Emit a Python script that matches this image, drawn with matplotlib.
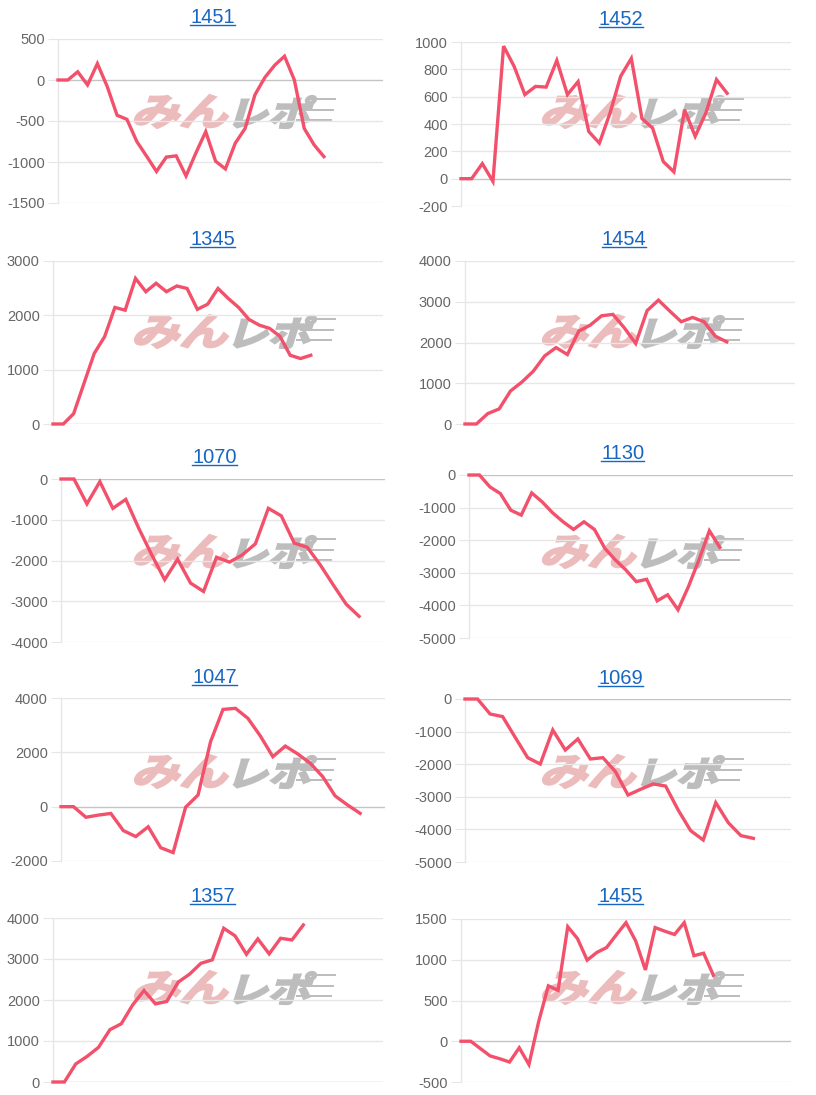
import matplotlib
matplotlib.use("Agg")
import matplotlib.pyplot as plt
from matplotlib.textpath import TextPath
from matplotlib.font_manager import FontProperties
from matplotlib.patches import PathPatch, Rectangle
from matplotlib.transforms import Affine2D
from matplotlib.lines import Line2D

W, H = 816, 1095

# --------------------------------------
# DATA
# --------------------------------------
titles = ["1451", "1452", "1345", "1454", "1070", "1130", "1047", "1069", "1357", "1455"]

v1451 = [0, 0, 100, -60, 200, -80, -430, -480, -750, -930, -1115, -940, -925, -1170,
         -890, -630, -990, -1085, -770, -590, -180, 30, 180, 290, 0, -590, -790, -935]
v1452 = [0, 0, 110, -20, 970, 820, 615, 675, 670, 865, 615, 710, 345, 260, 480, 750,
         880, 440, 370, 125, 50, 505, 310, 480, 725, 625]
v1345 = [0, 0, 190, 745, 1300, 1605, 2145, 2095, 2680, 2435, 2590, 2435, 2540, 2495,
         2110, 2205, 2495, 2310, 2145, 1925, 1820, 1760, 1615, 1265, 1205, 1265]
v1454 = [0, 0, 255, 370, 810, 1030, 1295, 1670, 1875, 1705, 2280, 2425, 2655, 2690,
         2360, 1975, 2780, 3040, 2770, 2510, 2615, 2510, 2155, 2015]
v1070 = [0, 0, -610, -65, -720, -500, -1210, -1860, -2470, -1970, -2555, -2760, -1920,
         -2040, -1860, -1590, -720, -905, -1575, -1675, -2105, -2595, -3070, -3370]
v1130 = [0, 0, -365, -570, -1080, -1230, -550, -825, -1160, -1435, -1670, -1435, -1670,
         -2250, -2605, -2910, -3270, -3200, -3860, -3675, -4135, -3420, -2605, -1710, -2220]
v1047 = [0, 0, -390, -310, -250, -880, -1100, -740, -1510, -1690, -20, 430, 2390, 3580,
         3620, 3250, 2600, 1840, 2230, 1940, 1600, 1105, 395, 60, -245]
v1069 = [0, 0, -460, -540, -1175, -1800, -1995, -950, -1565, -1225, -1840, -1800, -2230,
         -2945, -2770, -2605, -2670, -3405, -4040, -4325, -3180, -3795, -4190, -4275]
v1357 = [0, 0, 440, 625, 845, 1275, 1420, 1880, 2230, 1905, 1965, 2435, 2630, 2895,
         2980, 3750, 3565, 3115, 3490, 3125, 3505, 3465, 3830]
v1455 = [0, 0, -90, -180, -215, -255, -80, -285, 240, 680, 625, 1405, 1260, 995, 1090,
         1150, 1305, 1455, 1230, 875, 1395, 1350, 1310, 1455, 1050, 1080, 810]

series = [v1451, v1452, v1345, v1454, v1070, v1130, v1047, v1069, v1357, v1455]

# number of x categories on each chart (labels are hidden)
n_labels = [34, 32, 33, 30, 26, 32, 27, 27, 30, 35]

y_ticks = [
    [-1500, -1000, -500, 0, 500],
    [-200, 0, 200, 400, 600, 800, 1000],
    [0, 1000, 2000, 3000],
    [0, 1000, 2000, 3000, 4000],
    [-4000, -3000, -2000, -1000, 0],
    [-5000, -4000, -3000, -2000, -1000, 0],
    [-2000, 0, 2000, 4000],
    [-5000, -4000, -3000, -2000, -1000, 0],
    [0, 1000, 2000, 3000, 4000],
    [-500, 0, 500, 1000, 1500],
]

# --------------------------------------
# LAYOUT (pixel boxes: left, top, right, bottom)
# --------------------------------------
boxes = [
    (58, 39, 383, 203), (461, 42, 791, 206),
    (53, 261, 383, 424), (465, 261, 795, 424),
    (61, 479, 385, 642), (469, 475, 793, 638),
    (61, 698, 385, 861), (465, 699, 791, 862),
    (53, 918, 383, 1082), (461, 919, 791, 1082),
]
title_pos = [
    (212.5, 23.3), (621, 25), (212.7, 245), (624, 245), (214.7, 463),
    (622.7, 459), (214.7, 683), (620.5, 684), (212.8, 902), (620.8, 902),
]
row_tops = [0, 220, 440, 660, 876]

LINE_COLOR = "#f2506b"
GRID_COLOR = "#e6e6e6"
ZERO_COLOR = "#c4c4c4"
TICK_COLOR = "#666666"
TITLE_COLOR = "#1766c2"

plt.rcParams["font.family"] = ["Liberation Sans", "DejaVu Sans"]

fig = plt.figure(figsize=(W / 100, H / 100), dpi=100)
fig.patch.set_facecolor("white")


def fig_rect(l, t, r, b):
    return [l / W, 1 - b / H, (r - l) / W, (b - t) / H]


# --------------------------------------
# WATERMARK (drawn behind the transparent axes)
# --------------------------------------
wm_font = FontProperties(family="Noto Sans CJK JP", weight="bold")


def fitted_path(text, x0, y0, x1, y1, skew=14):
    tp = TextPath((0, 0), text, size=100, prop=wm_font)
    path = Affine2D().skew_deg(skew, 0).transform_path(tp)
    ext = path.get_extents()
    tr = (Affine2D().translate(-ext.x0, -ext.y0)
          .scale((x1 - x0) / ext.width, (y1 - y0) / ext.height)
          .translate(x0, H - y1)
          .scale(1 / W, 1 / H))
    return tr.transform_path(path)


PINK_WM = "#ecbcbc"
GREY_WM = "#bdbdbd"
for col_x in (0, 408):
    for rt in row_tops:
        p1 = fitted_path("みん", col_x + 135, rt + 95, col_x + 228, rt + 128)
        p2 = fitted_path("レポ", col_x + 234, rt + 96, col_x + 316, rt + 128)
        fig.add_artist(PathPatch(p1, transform=fig.transFigure, fc=PINK_WM,
                                 ec=PINK_WM, lw=1.6, zorder=-2))
        fig.add_artist(PathPatch(p2, transform=fig.transFigure, fc=GREY_WM,
                                 ec=GREY_WM, lw=1.6, zorder=-2))
        # speed streaks
        for (sx0, sx1, sy) in [(306, 336, 99), (300, 334, 110), (296, 332, 120)]:
            fig.add_artist(Rectangle(((col_x + sx0) / W, 1 - (rt + sy + 1) / H),
                                     (sx1 - sx0) / W, 2 / H,
                                     transform=fig.transFigure, fc=GREY_WM,
                                     ec="none", zorder=-2))

# --------------------------------------
# PANELS
# --------------------------------------
title_texts = []
for i, (name, vals) in enumerate(zip(titles, series)):
    ax = fig.add_axes(fig_rect(*boxes[i]))
    ax.set_facecolor("none")
    ax.plot(range(len(vals)), vals, color=LINE_COLOR, lw=2.4,
            solid_joinstyle="miter", zorder=3, clip_on=False)

    ticks = y_ticks[i]
    ax.set_ylim(ticks[0], ticks[-1])
    ax.set_xlim(0, n_labels[i] - 1)
    ax.set_yticks(ticks)
    ax.set_yticklabels([str(t) for t in ticks])
    ax.set_xticks([])
    for t in ticks:
        ax.axhline(t, color=ZERO_COLOR if t == 0 else GRID_COLOR, lw=1, zorder=1)
    for s in ["top", "right", "bottom"]:
        ax.spines[s].set_visible(False)
    ax.spines["left"].set_color(GRID_COLOR)
    ax.spines["left"].set_linewidth(1)
    ax.tick_params(axis="y", length=7.5, width=0.8, color=GRID_COLOR, pad=2,
                   labelsize=10.5, labelcolor=TICK_COLOR)

    tx, ty = title_pos[i]
    txt = fig.text(tx / W, 1 - ty / H, name, ha="center", va="baseline",
                   fontsize=14.5, color=TITLE_COLOR)
    title_texts.append((txt, ty))

# underline the titles like links
fig.canvas.draw()
for txt, ty in title_texts:
    bb = txt.get_window_extent()
    x0, x1 = bb.x0 / W, bb.x1 / W
    yy = 1 - (ty + 1.8) / H
    fig.add_artist(Line2D([x0, x1], [yy, yy], transform=fig.transFigure,
                          color=TITLE_COLOR, lw=1.0))

fig.savefig("out.png", dpi=100, facecolor="white")
